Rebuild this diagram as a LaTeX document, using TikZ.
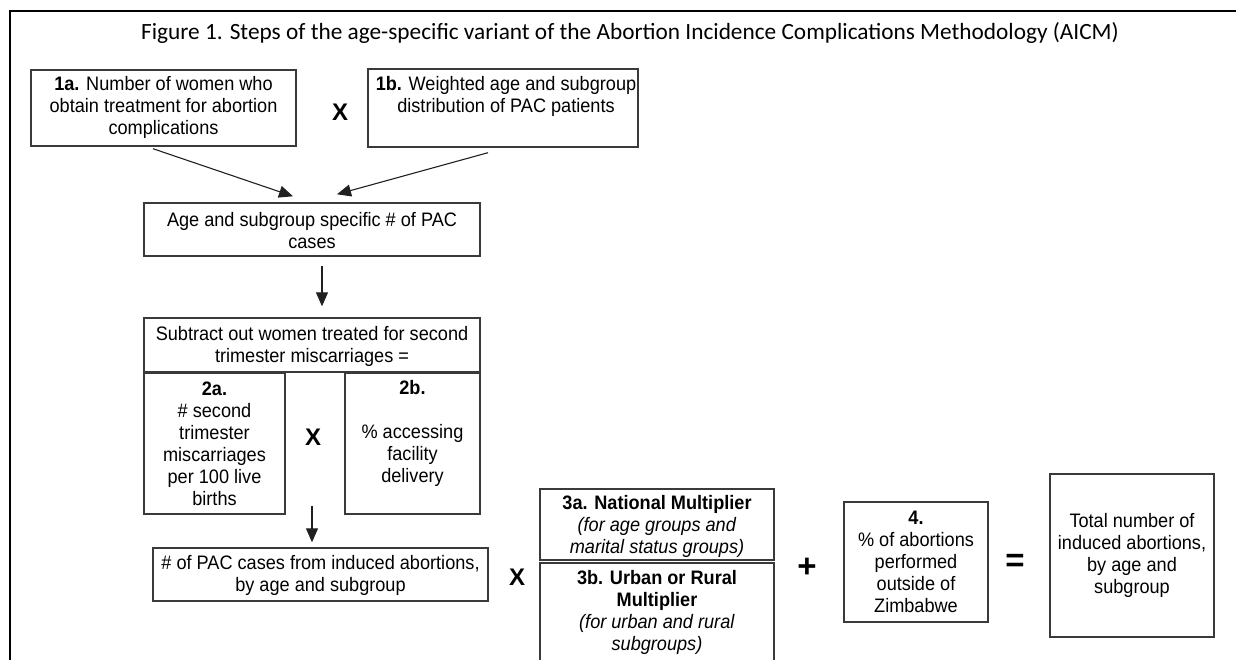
\documentclass[tikz,border=0pt]{standalone}
\usepackage{fontspec}
\setmainfont{Liberation Sans}[FakeStretch=0.93]
\newfontfamily\titlefont{Carlito}
\newfontfamily\opfont{Liberation Sans}
\usetikzlibrary{arrows.meta}
\definecolor{boxgray}{HTML}{3A3A3A}
\definecolor{arrgray}{HTML}{202020}
\begin{document}
\begin{tikzpicture}[x=1pt,y=-1pt,
  box/.style={draw=boxgray, line width=1.4pt, inner sep=0pt},
  txt/.style={inner sep=0pt, align=center, font=\fontsize{19.5}{22}\selectfont, text=black},
  op/.style={inner sep=0pt, font=\opfont\fontsize{24}{26}\selectfont\bfseries, text=black},
  bigop/.style={inner sep=0pt, font=\opfont\fontsize{33}{36}\selectfont\bfseries, text=black},
  arr/.style={draw=arrgray, line width=1.1pt, -{Triangle[length=14pt,width=12pt]}}]
\useasboundingbox (0,0) rectangle (1236,660);
% frame
\draw[line width=2pt, black] (10,700) -- (10,11) -- (1250,11);
% title
\node[inner sep=0pt, font=\titlefont\fontsize{23.3}{26}\selectfont] (title) at (630,33)
  {Figure 1. Steps of the age-specific variant of the Abortion Incidence Complications Methodology (AICM)};
% boxes
\node[box, minimum width=265pt, minimum height=76pt] (b1a) at (163.5,108) {};
\node[box, minimum width=270pt, minimum height=78pt] (b1b) at (503,108) {};
\node[box, minimum width=336pt, minimum height=53pt] (bage) at (312,229.5) {};
\node[box, minimum width=336pt, minimum height=54pt] (bsub) at (312,345) {};
\node[box, minimum width=141pt, minimum height=141pt] (b2a) at (214.5,443.5) {};
\node[box, minimum width=135pt, minimum height=141pt] (b2b) at (412.5,443.5) {};
\node[box, minimum width=335pt, minimum height=53pt] (bpac) at (320.5,574.5) {};
\node[box, minimum width=234pt, minimum height=71pt] (b3a) at (657,524.5) {};
\node[box, minimum width=234pt, minimum height=137pt] (b3b) at (657,631.5) {};
\node[box, minimum width=144pt, minimum height=120pt] (b4) at (916,562) {};
\node[box, minimum width=164pt, minimum height=163pt] (btot) at (1132,555.5) {};
% texts
\node[txt] (t1a) at (163.5,107.5) {\textbf{1a.} Number of women who\\obtain treatment for abortion\\complications};
\node[txt] (t1b) at (506,96) {\textbf{1b.} Weighted age and subgroup\\distribution of PAC patients};
\node[txt] (tage) at (312,231) {Age and subgroup specific \# of PAC\\cases};
\node[txt] (tsub) at (312,346.5) {Subtract out women treated for second\\trimester miscarriages =};
\node[txt] (t2a) at (214.5,443.5) {\textbf{2a.}\\\# second\\trimester\\miscarriages\\per 100 live\\births};
\node[txt] (t2b) at (412.5,433) {\textbf{2b.}\\[22pt]\% accessing\\facility\\delivery};
\node[txt] (tpac) at (320.5,575) {\# of PAC cases from induced abortions,\\by age and subgroup};
\node[txt] (t3a) at (657,526.5) {\textbf{3a. National Multiplier}\\\textit{(for age groups and}\\\textit{marital status groups)}};
\node[txt] (t3b) at (657,612) {\textbf{3b. Urban or Rural}\\\textbf{Multiplier}\\\textit{(for urban and rural}\\\textit{subgroups)}};
\node[txt] (t4) at (916,561.5) {\textbf{4.}\\\% of abortions\\performed\\outside of\\Zimbabwe};
\node[txt] (ttot) at (1132,555.5) {Total number of\\induced abortions,\\by age and\\subgroup};
% operators
\node[op] (x1) at (340,112) {X};
\node[op] (x2) at (313,437) {X};
\node[op] (x3) at (517,577) {X};
\node[bigop] (plus) at (807,568) {+};
\node[bigop] (eq) at (1015,563) {=};
% arrows
\draw[arr] ([xshift=-10.5pt,yshift=-2pt]b1a.south) -- ([xshift=-19pt,yshift=6pt]bage.north);
\draw[arr] ([xshift=-15pt,yshift=-5pt]b1b.south) -- ([xshift=25pt,yshift=8pt]bage.north);
\draw[arr] ([xshift=10pt,yshift=-9pt]bage.south) -- ([xshift=10pt,yshift=11pt]bsub.north);
\draw[arr] ([yshift=-133pt]bsub.south) -- ([xshift=-8.5pt,yshift=5pt]bpac.north);
\end{tikzpicture}
\end{document}
